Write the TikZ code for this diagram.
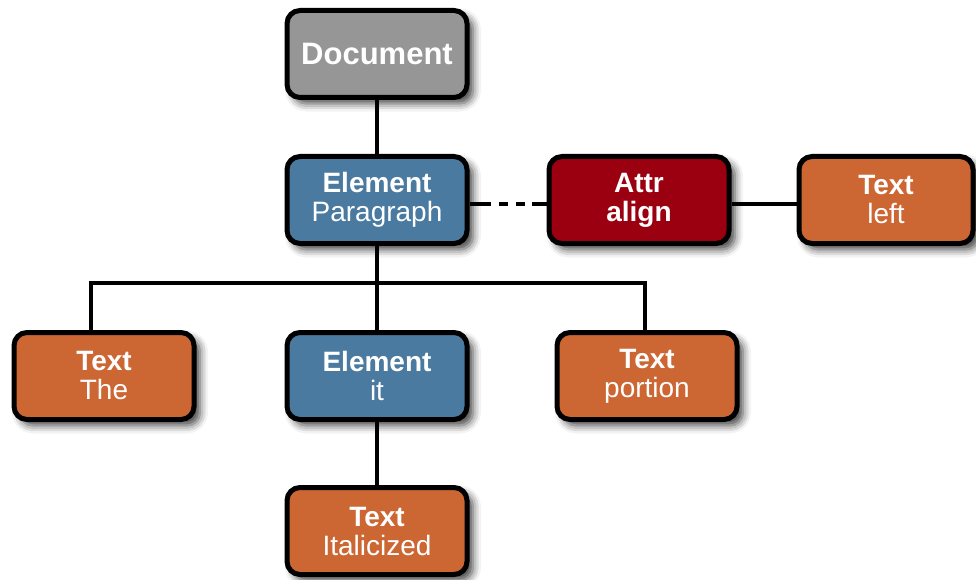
\documentclass[tikz,border=0pt]{standalone}
\usepackage{fontspec}
\setmainfont{Liberation Sans}
\usetikzlibrary{shadows.blur}

\definecolor{docgray}{RGB}{150,150,150}
\definecolor{elemblue}{RGB}{74,122,160}
\definecolor{attrred}{RGB}{155,0,16}
\definecolor{textorange}{RGB}{204,102,51}

\tikzset{
  box/.style={draw=black, line width=5pt, rounded corners=13pt,
    minimum width=180pt, minimum height=87pt, inner sep=0pt,
    align=center, text=white,
    font=\fontsize{28}{29}\selectfont,
    blur shadow={shadow xshift=6pt, shadow yshift=-6pt,
      shadow blur radius=8pt, shadow opacity=75}},
  docbox/.style={box, fill=docgray, font=\fontsize{31}{31}\selectfont\bfseries},
  elembox/.style={box, fill=elemblue},
  attrbox/.style={box, fill=attrred},
  textbox/.style={box, fill=textorange},
  link/.style={draw=black, line width=4.5pt}
}

\begin{document}
\begin{tikzpicture}[x=1pt, y=-1pt]
  \useasboundingbox (0,0) rectangle (976,580);

  % tree nodes
  \node[docbox]  (doc)  at (377,54)  {Document};
  \node[elembox] (para) at (377,200) {\textbf{Element}\\Paragraph};
  \node[attrbox] (attr) at (639,200) {\textbf{Attr}\\\textbf{align}};
  \node[textbox, minimum width=174pt] (left) at (886,200) {\textbf{Text}\\left};
  \node[textbox] (the)  at (104,376) {\textbf{Text}\\The};
  \node[elembox] (it)   at (377,376) {\textbf{Element}\\it};
  \node[textbox] (port) at (647,376) {\textbf{Text}\\portion};
  \node[textbox] (ital) at (377,531) {\textbf{Text}\\Italicized};

  % branch point of the children bus
  \coordinate (bus) at (376,283);

  % connectors
  \draw[link] (doc.south) -- (para.north);
  \draw[link] (para.south) -- (it.north);
  \draw[link] ([xshift=-13pt]the.north) |- (bus) -| ([xshift=-2pt]port.north);
  \draw[link] (it.south) -- (ital.north);
  \draw[link, dash pattern=on 21pt off 8pt on 9pt off 8pt on 9pt off 7pt on 40pt]
    ([yshift=-4pt]para.east) -- ([yshift=-4pt]attr.west);
  \draw[link] ([yshift=-4pt]attr.east) -- ([yshift=-4pt]left.west);
\end{tikzpicture}
\end{document}
